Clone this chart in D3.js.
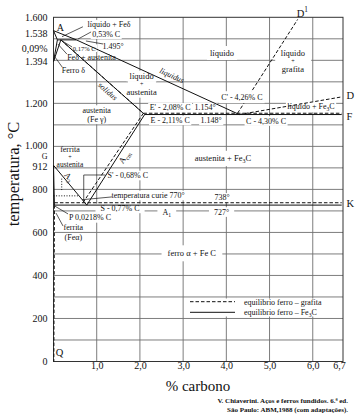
<!DOCTYPE html>
<html><head><meta charset="utf-8">
<script src="https://cdn.jsdelivr.net/npm/d3@7"></script>
<style>
html,body{margin:0;padding:0;background:#fff;}
svg{display:block;font-family:"Liberation Serif","Times New Roman",serif;}
</style></head><body>
<svg id="c" width="359" height="420"></svg>
<script>
// ---- axis / tick data ----
const tempTicks = [1600,1538,1394,1200,1000,912,800,600,400,200,0];
const carbonTicks = [1,2,3,4,5,6,6.7];
const gridTemps = d3.range(100,1600,100);
const gridCarbons = [1,2,3,4,5,6];

// ---- phase boundaries [%C, °C] ----
const liquidusAB = [[0,1538],[0.53,1495]];
const liquidusBC = [[0.53,1495],[4.30,1148]];
const liquidusCD = [[4.30,1148],[6.67,1230]];
const solidusDelta = [[0,1538],[0.09,1495]];
const peritectic = [[0.09,1495],[0.53,1495]];
const deltaHN = [[0.09,1495],[0,1394]];
const deltaJN = [[0.17,1495],[0,1394]];
const solidusGamma = [[0.17,1495],[2.11,1148]];
const solidusGraphite = [[0.17,1495],[2.08,1154]];
const eutectic = [[2.11,1148],[6.67,1148]];
const eutecticGraphite = [[2.08,1154],[6.67,1154]];
const liquidusGraphite = [[4.26,1154],[5.65,1590]];
const acm = [[2.11,1148],[0.77,727]];
const acmGraphite = [[2.08,1154],[0.68,738]];
const a3 = [[0,912],[0.77,727]];
const gp = [[0,912],[0.0218,727]];
const eutectoid = [[0.0218,727],[6.67,727]];
const eutectoidGraphite = [[0.0218,738],[6.67,738]];
const solvusAlpha = [[0.0218,727],[0.008,0]];
const curie = [[0,770],[0.6,770]];
const arrowA = [[0.19,850],[0.19,790]];

const solidLines = [liquidusAB,liquidusBC,solidusDelta,peritectic,deltaHN,deltaJN,solidusGamma,eutectic,acm,a3,gp,eutectoid];
const dashedLines = [liquidusCD,solidusGraphite,eutecticGraphite,liquidusGraphite,acmGraphite,eutectoidGraphite,solvusAlpha];
const dottedLines = [curie,arrowA];

const svg = d3.select('#c');
const x = d3.scaleLinear().domain([0,6.7]).range([53.5,343]);
const y = d3.scaleLinear().domain([0,1600]).range([361.5,17.3]);
const line = d3.line().x(d=>x(d[0])).y(d=>y(d[1]));

const gGrid = svg.append('g');
const gBg = svg.append('g');
const gLines = svg.append('g');
const gText = svg.append('g');
const gTopBg = svg.append('g');
const gTop = svg.append('g');

// grid
gGrid.selectAll('line.h').data(gridTemps).join('line')
  .attr('x1',x(0)).attr('x2',x(6.7)).attr('y1',d=>y(d)).attr('y2',d=>y(d))
  .attr('stroke','#6e6e6e').attr('stroke-width',0.9);
gGrid.selectAll('line.v').data(gridCarbons).join('line')
  .attr('y1',y(0)).attr('y2',y(1600)).attr('x1',d=>x(d)).attr('x2',d=>x(d))
  .attr('stroke','#6e6e6e').attr('stroke-width',0.9);
gGrid.append('rect').attr('x',x(0)).attr('y',y(1600)).attr('width',x(6.7)-x(0)).attr('height',y(0)-y(1600))
  .attr('fill','none').attr('stroke','#333').attr('stroke-width',1);

// phase lines
gLines.selectAll('path.s').data(solidLines).join('path').attr('d',line)
  .attr('fill','none').attr('stroke','#111').attr('stroke-width',1);
gLines.selectAll('path.d').data(dashedLines).join('path').attr('d',line)
  .attr('fill','none').attr('stroke','#111').attr('stroke-width',1).attr('stroke-dasharray','3.5,2');
gLines.selectAll('path.o').data(dottedLines).join('path').attr('d',line)
  .attr('fill','none').attr('stroke','#111').attr('stroke-width',1).attr('stroke-dasharray','1,1.6');

// leaders
const leaders = [
  [[0.68,1556],[0.197,1510]],
  [[0.87,1532],[0.56,1498]],
  [[0.43,1462],[0.2,1490]],
  [[1.146,1476],[0.75,1490]],
  [[0.31,1429],[0.10,1476]],
  [[0.2,1369],[0.035,1415]],
  [[1.2,867],[0.7,867],[0.7,745]],
  [[1.35,765],[0.66,752]],
  [[0.336,686],[0.035,722]],
  [[0.22,630],[0.058,690]]
];
gLines.selectAll('path.l').data(leaders).join('path').attr('d',line)
  .attr('fill','none').attr('stroke','#111').attr('stroke-width',0.7);

function rich(sel, str, size){
  let shift=0;
  str.split(/(_\{[^}]*\}|\^\{[^}]*\})/).filter(s=>s).forEach(p=>{
    let s=0, txt=p, fs=size;
    if(p.startsWith('_{')){ s=size*0.28; txt=p.slice(2,-1); fs=size*0.7; }
    else if(p.startsWith('^{')){ s=-size*0.42; txt=p.slice(2,-1); fs=size*0.7; }
    sel.append('tspan').attr('dy',s-shift).attr('font-size',fs).text(txt);
    shift=s;
  });
}
function label(o){
  const size=o.size||8.5;
  const layer = o.top? gTop : gText;
  const px=x(o.c), py=y(o.t);
  const t = layer.append('text').attr('x',px).attr('y',py)
    .attr('text-anchor',o.anchor||'middle').attr('font-size',size).attr('fill','#111');
  if(o.italic) t.attr('font-style','italic');
  if(o.rot) t.attr('transform',`rotate(${o.rot},${px},${py})`);
  rich(t,o.s,size);
  if(o.bg){
    const b=t.node().getBBox(); const padX=o.padX||1.5, padY=o.padY||0.3;
    (o.top?gTopBg:gBg).append('rect').attr('x',b.x-padX).attr('y',b.y-padY)
      .attr('width',b.width+2*padX).attr('height',b.height+2*padY).attr('fill','#fff');
  }
}

const labels = [
  {s:'líquido',c:3.90,t:1420,bg:true,padX:3,padY:2},
  {s:'líquido',c:5.54,t:1420,bg:true,padX:5},
  {s:'+',c:5.54,t:1386,bg:true,padX:16,size:6},
  {s:'grafita',c:5.54,t:1344,bg:true,padX:5},
  {s:'líquido',c:2.04,t:1313,bg:true,padX:3},
  {s:'+',c:2.04,t:1279,bg:true,padX:12,size:6},
  {s:'austenita',c:2.04,t:1237,bg:true,padX:2},
  {s:'austenita',c:1.0,t:1157,bg:true,padX:2,size:8},
  {s:'(Fe γ)',c:1.0,t:1114,bg:true,padX:2,size:8},
  {s:'austenita + Fe_{3}C',c:3.92,t:933,bg:true,padX:3,padY:2},
  {s:'ferrita',c:0.38,t:974,size:8},
  {s:'+',c:0.38,t:940,size:6},
  {s:'austenita',c:0.38,t:903,size:7.5},
  {s:'ferro α + Fe C',c:3.2,t:489,bg:true,padX:6,padY:3},
  {s:'S - 0,77% C',c:1.54,t:700,bg:true,padX:5,size:8},
  {s:'A_{1}',c:2.62,t:683,bg:true,padX:5,size:8},
  {s:'727°',c:3.89,t:683,bg:true,padX:5,size:8},
  {s:'738°',c:3.9,t:749,bg:true,size:8},
  {s:"E' - 2,08% C",c:2.70,t:1168,bg:true,size:8},
  {s:'1.154°',c:3.51,t:1168,bg:true,size:8},
  {s:'E - 2,11% C',c:2.70,t:1109,bg:true,size:8},
  {s:'1.148°',c:3.65,t:1109,bg:true,size:8},
  {s:'C - 4,30% C',c:4.92,t:1106,bg:true,size:8},
  {s:"C' - 4,26% C",c:4.36,t:1217,bg:true,top:true,padX:2,padY:1.5,size:8},
  {s:'líquido + Fe_{3}C',c:5.96,t:1175,bg:true,size:8},
  {s:'temperatura curie 770°',c:2.19,t:760,bg:true,size:8},
  {s:"S' - 0,68% C",c:1.72,t:853,bg:true,size:8},
  {s:'P 0,0218% C',c:0.845,t:656,bg:true,size:8},
  {s:'ferrita',c:0.46,t:613,size:8},
  {s:'(Feα)',c:0.46,t:563,size:8},
  {s:'líquido + Feδ',c:1.285,t:1554,bg:true,size:8},
  {s:'0,53% C',c:1.22,t:1510,bg:true,size:8},
  {s:'0,17% C',c:0.71,t:1445,bg:true,size:6.5},
  {s:'1.495°',c:1.38,t:1454,size:8},
  {s:'Feδ + austenita',c:0.88,t:1403,size:8},
  {s:'Ferro δ',c:0.46,t:1341,size:8},
  {s:'A',c:0.16,t:1534,size:10},
  {s:'liquidus',c:2.715,t:1318,size:8,rot:24.6,italic:true},
  {s:'solidus',c:1.215,t:1247,size:8,rot:41.7,italic:true},
  {s:'A_{cm}',c:1.69,t:943,size:8.5,rot:-57.5},
  {s:'A_{3}',c:0.305,t:849,size:8.5,rot:50},
  {s:'D',c:6.78,t:1220,size:10.5,anchor:'start'},
  {s:'F',c:6.78,t:1123,size:10.5,anchor:'start'},
  {s:'K',c:6.78,t:718,size:10.5,anchor:'start'},
  {s:'D^{1}',c:5.63,t:1603,size:10.5,anchor:'start'},
  {s:'Q',c:0.05,t:26,size:10.5,anchor:'start'}
];
labels.forEach(label);

// axes
const yAxis = d3.axisLeft(y).tickValues(tempTicks).tickSize(0).tickPadding(6)
  .tickFormat(d=>d3.format(',')(d).replace(/,/g,'.'));
const ya = svg.append('g').attr('transform',`translate(${x(0)},0)`).call(yAxis);
ya.select('.domain').remove();
ya.selectAll('text').attr('font-family','"Liberation Serif","Times New Roman",serif').attr('font-size',10).attr('fill','#111');
ya.selectAll('.tick').filter(d=>d===1538).select('text').attr('y',3);
ya.selectAll('.tick').filter(d=>d===1000).select('text').attr('y',-0.7);
ya.selectAll('.tick').filter(d=>d===912).select('text').attr('y',1.4);

const xAxis = d3.axisBottom(x).tickValues(carbonTicks).tickSize(0).tickPadding(0)
  .tickFormat(d=>d.toFixed(1).replace('.',','));
const xa = svg.append('g').attr('transform',`translate(0,${y(0)})`).call(xAxis);
xa.select('.domain').remove();
xa.selectAll('text').attr('font-family','"Liberation Serif","Times New Roman",serif').attr('font-size',10).attr('fill','#111');
xa.selectAll('.tick').filter(d=>d===6.7).select('text').attr('x',-4);

// extra left labels
svg.append('text').attr('x',x(0)-6).attr('y',y(1441)).attr('text-anchor','end').attr('font-size',10).attr('fill','#111').text('0,09%');
svg.append('text').attr('x',x(0)-6).attr('y',y(942)).attr('text-anchor','end').attr('font-size',8).attr('fill','#111').text('G');

// axis titles
svg.append('text').attr('transform','translate(19,174) rotate(-90)').attr('text-anchor','middle')
  .attr('font-size',16.5).attr('fill','#111').text('temperatura, °C');
svg.append('text').attr('x',198).attr('y',391).attr('text-anchor','middle')
  .attr('font-size',15).attr('fill','#111').text('% carbono');

// legend
gBg.append('rect').attr('x',186).attr('y',298.5).attr('width',139).attr('height',18).attr('fill','#fff');
gLines.append('line').attr('x1',190).attr('x2',235).attr('y1',301.7).attr('y2',301.7)
  .attr('stroke','#111').attr('stroke-dasharray','3.5,2');
gLines.append('line').attr('x1',190).attr('x2',235).attr('y1',312.3).attr('y2',312.3).attr('stroke','#111');
const lt1 = gText.append('text').attr('x',244).attr('y',304.8).attr('font-size',8).attr('fill','#111');
lt1.text('equilibrio ferro – grafita');
const lt2 = gText.append('text').attr('x',244).attr('y',315).attr('font-size',8).attr('fill','#111');
rich(lt2,'equilibrio ferro – Fe_{3}C',8);

// citation
svg.append('text').attr('x',348).attr('y',403).attr('text-anchor','end').attr('font-size',7).attr('font-weight','bold').attr('fill','#111')
  .text('V. Chiaverini. Aços e ferros fundidos. 6.ª ed.');
svg.append('text').attr('x',348).attr('y',412).attr('text-anchor','end').attr('font-size',7).attr('font-weight','bold').attr('fill','#111')
  .text('São Paulo: ABM,1988 (com adaptações).');
</script>
</body></html>
